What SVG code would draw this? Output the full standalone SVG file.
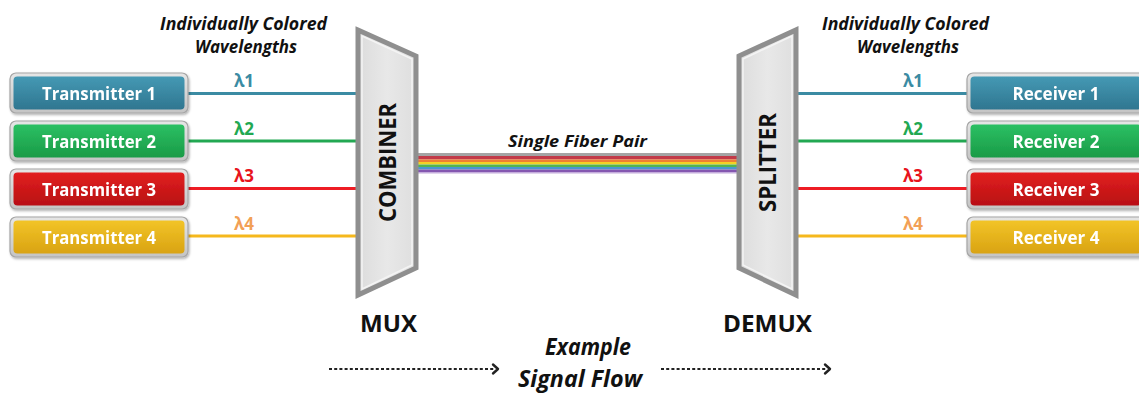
<svg xmlns="http://www.w3.org/2000/svg" width="1139" height="396" viewBox="0 0 1139 396">
  <defs>
    <style>
      .lbl { font-family: "Open Sans", "Liberation Sans", sans-serif; font-weight: bold; fill: #ffffff; font-size: 18px; text-anchor: middle; }
      .hdr { font-family: "Open Sans", "Liberation Sans", sans-serif; font-weight: bold; font-style: italic; fill: #111111; text-anchor: middle; }
      .big { font-family: "Open Sans", "Liberation Sans", sans-serif; font-weight: bold; fill: #111111; text-anchor: middle; }
      .lam { font-family: "Open Sans", "Liberation Sans", sans-serif; font-weight: bold; font-size: 17px; text-anchor: middle; }
      .frame { fill: url(#gFrame); stroke: #a6a6a6; stroke-width: 1.2; }
      .wave { stroke-width: 3; fill: none; }
      .flow { stroke: #222222; stroke-width: 2; stroke-dasharray: 3 2.2; fill: none; }
      .chev { stroke: #222222; stroke-width: 2.4; fill: none; stroke-linecap: round; stroke-linejoin: round; }
      .trap { fill: url(#gTrap); stroke: #8f8f8f; stroke-width: 5; stroke-linejoin: miter; }
      .trapIn { fill: none; stroke: #f4f4f4; stroke-width: 1.5; }
    </style>
    <linearGradient id="gFrame" x1="0" y1="0" x2="0" y2="1">
      <stop offset="0" stop-color="#e6e6e6"/>
      <stop offset="1" stop-color="#c4c4c4"/>
    </linearGradient>
    <linearGradient id="gBlue" x1="0" y1="0" x2="0" y2="1">
      <stop offset="0" stop-color="#4599b4"/>
      <stop offset="1" stop-color="#2f7690"/>
    </linearGradient>
    <linearGradient id="gGreen" x1="0" y1="0" x2="0" y2="1">
      <stop offset="0" stop-color="#2cc063"/>
      <stop offset="1" stop-color="#199b47"/>
    </linearGradient>
    <linearGradient id="gRed" x1="0" y1="0" x2="0" y2="1">
      <stop offset="0" stop-color="#e22020"/>
      <stop offset="1" stop-color="#b80f12"/>
    </linearGradient>
    <linearGradient id="gGold" x1="0" y1="0" x2="0" y2="1">
      <stop offset="0" stop-color="#f2c428"/>
      <stop offset="1" stop-color="#d9a312"/>
    </linearGradient>
    <linearGradient id="gTrap" x1="0" y1="0" x2="1" y2="0">
      <stop offset="0" stop-color="#dcdcdc"/>
      <stop offset="0.5" stop-color="#e8e8e8"/>
      <stop offset="1" stop-color="#dedede"/>
    </linearGradient>
    <filter id="shadow" x="-10%" y="-20%" width="120%" height="150%">
      <feDropShadow dx="1" dy="1.5" stdDeviation="1.2" flood-color="#000000" flood-opacity="0.3"/>
    </filter>
  </defs>

  <rect width="1139" height="396" fill="#ffffff"/>

  <!-- headings -->
  <g id="header-left">
    <text class="hdr" x="243.5" y="30" font-size="17" textLength="167" lengthAdjust="spacingAndGlyphs">Individually Colored</text>
    <text class="hdr" x="246" y="52.5" font-size="17" textLength="102" lengthAdjust="spacingAndGlyphs">Wavelengths</text>
  </g>
  <g id="header-right">
    <text class="hdr" x="905.5" y="30" font-size="17" textLength="167" lengthAdjust="spacingAndGlyphs">Individually Colored</text>
    <text class="hdr" x="908" y="52.5" font-size="17" textLength="102" lengthAdjust="spacingAndGlyphs">Wavelengths</text>
  </g>

  <!-- connectors: wavelength lines, fiber trunk, flow arrows -->
  <g id="connectors">
    <line class="wave" x1="188" y1="93.5" x2="358" y2="93.5" stroke="#3b8ba3"/>
    <line class="wave" x1="188" y1="141" x2="358" y2="141" stroke="#22a852"/>
    <line class="wave" x1="188" y1="188.5" x2="358" y2="188.5" stroke="#ee1c24"/>
    <line class="wave" x1="188" y1="236" x2="358" y2="236" stroke="#f5b81c"/>

    <line class="wave" x1="796" y1="93.5" x2="968" y2="93.5" stroke="#3b8ba3"/>
    <line class="wave" x1="796" y1="141" x2="968" y2="141" stroke="#22a852"/>
    <line class="wave" x1="796" y1="188.5" x2="968" y2="188.5" stroke="#ee1c24"/>
    <line class="wave" x1="796" y1="236" x2="968" y2="236" stroke="#f5b81c"/>

    <g id="fiber">
      <rect x="418" y="153" width="320" height="3" fill="#a4a4a4"/>
      <rect x="418" y="156" width="320" height="3.5" fill="#c23a48"/>
      <rect x="418" y="159.5" width="320" height="2.5" fill="#ef7f32"/>
      <rect x="418" y="162" width="320" height="2.5" fill="#f4d124"/>
      <rect x="418" y="164.5" width="320" height="2.5" fill="#55b54e"/>
      <rect x="418" y="167" width="320" height="2.5" fill="#4a96d2"/>
      <rect x="418" y="169.5" width="320" height="2.5" fill="#8457b0"/>
      <rect x="418" y="172" width="320" height="1.5" fill="#c4acdc"/>
    </g>

    <line class="flow" x1="329" y1="369" x2="494" y2="369"/>
    <polyline class="chev" points="493,364.5 498,369 493,373.5"/>
    <line class="flow" x1="661" y1="369" x2="826" y2="369"/>
    <polyline class="chev" points="825,364.5 830,369 825,373.5"/>
  </g>

  <!-- wavelength tags -->
  <g id="lambda-left">
    <text class="lam" x="244" y="87" fill="#3b8ba3">λ1</text>
    <text class="lam" x="244" y="134.5" fill="#22a852">λ2</text>
    <text class="lam" x="244" y="182" fill="#e8141c">λ3</text>
    <text class="lam" x="244" y="229.5" fill="#f2a056">λ4</text>
  </g>
  <g id="lambda-right">
    <text class="lam" x="913" y="87" fill="#3b8ba3">λ1</text>
    <text class="lam" x="913" y="134.5" fill="#22a852">λ2</text>
    <text class="lam" x="913" y="182" fill="#e8141c">λ3</text>
    <text class="lam" x="913" y="229.5" fill="#f2a056">λ4</text>
  </g>

  <!-- transmitters -->
  <g id="transmitter-1" filter="url(#shadow)">
    <rect class="frame" x="10" y="73" width="178" height="40" rx="6"/>
    <rect x="13.5" y="76.5" width="171" height="33" rx="4" fill="url(#gBlue)"/>
    <text class="lbl" x="99" y="100" textLength="114" lengthAdjust="spacingAndGlyphs">Transmitter 1</text>
  </g>
  <g id="transmitter-2" filter="url(#shadow)">
    <rect class="frame" x="10" y="121" width="178" height="40" rx="6"/>
    <rect x="13.5" y="124.5" width="171" height="33" rx="4" fill="url(#gGreen)"/>
    <text class="lbl" x="99" y="148" textLength="114" lengthAdjust="spacingAndGlyphs">Transmitter 2</text>
  </g>
  <g id="transmitter-3" filter="url(#shadow)">
    <rect class="frame" x="10" y="169" width="178" height="40" rx="6"/>
    <rect x="13.5" y="172.5" width="171" height="33" rx="4" fill="url(#gRed)"/>
    <text class="lbl" x="99" y="196" textLength="114" lengthAdjust="spacingAndGlyphs">Transmitter 3</text>
  </g>
  <g id="transmitter-4" filter="url(#shadow)">
    <rect class="frame" x="10" y="217" width="178" height="40" rx="6"/>
    <rect x="13.5" y="220.5" width="171" height="33" rx="4" fill="url(#gGold)"/>
    <text class="lbl" x="99" y="244" textLength="114" lengthAdjust="spacingAndGlyphs">Transmitter 4</text>
  </g>

  <!-- receivers (run off the right edge) -->
  <g id="receiver-1" filter="url(#shadow)">
    <rect class="frame" x="967" y="73" width="178" height="40" rx="6"/>
    <rect x="970.5" y="76.5" width="171" height="33" rx="4" fill="url(#gBlue)"/>
    <text class="lbl" x="1056" y="100" textLength="87" lengthAdjust="spacingAndGlyphs">Receiver 1</text>
  </g>
  <g id="receiver-2" filter="url(#shadow)">
    <rect class="frame" x="967" y="121" width="178" height="40" rx="6"/>
    <rect x="970.5" y="124.5" width="171" height="33" rx="4" fill="url(#gGreen)"/>
    <text class="lbl" x="1056" y="148" textLength="87" lengthAdjust="spacingAndGlyphs">Receiver 2</text>
  </g>
  <g id="receiver-3" filter="url(#shadow)">
    <rect class="frame" x="967" y="169" width="178" height="40" rx="6"/>
    <rect x="970.5" y="172.5" width="171" height="33" rx="4" fill="url(#gRed)"/>
    <text class="lbl" x="1056" y="196" textLength="87" lengthAdjust="spacingAndGlyphs">Receiver 3</text>
  </g>
  <g id="receiver-4" filter="url(#shadow)">
    <rect class="frame" x="967" y="217" width="178" height="40" rx="6"/>
    <rect x="970.5" y="220.5" width="171" height="33" rx="4" fill="url(#gGold)"/>
    <text class="lbl" x="1056" y="244" textLength="87" lengthAdjust="spacingAndGlyphs">Receiver 4</text>
  </g>

  <!-- MUX: combiner block -->
  <g id="combiner">
    <polygon class="trap" points="358,30 416,56 416,268 358,295"/>
    <polygon class="trapIn" points="362,36 412,59 412,265 362,289"/>
    <text class="big" font-size="23" transform="translate(395.5,162.5) rotate(-90)" textLength="119" lengthAdjust="spacingAndGlyphs">COMBINER</text>
    <text class="big" x="388.5" y="332" font-size="23" textLength="57" lengthAdjust="spacingAndGlyphs">MUX</text>
  </g>

  <!-- DEMUX: splitter block -->
  <g id="splitter">
    <polygon class="trap" points="739,56 796,30 796,295 739,268"/>
    <polygon class="trapIn" points="743,59 792,36 792,289 743,265"/>
    <text class="big" font-size="23" transform="translate(775.5,162.5) rotate(-90)" textLength="99" lengthAdjust="spacingAndGlyphs">SPLITTER</text>
    <text class="big" x="767.5" y="332" font-size="23" textLength="89" lengthAdjust="spacingAndGlyphs">DEMUX</text>
  </g>

  <!-- captions -->
  <g id="fiber-label">
    <text class="hdr" x="577.5" y="147" font-size="16.5" textLength="139" lengthAdjust="spacingAndGlyphs">Single Fiber Pair</text>
  </g>
  <g id="flow-label">
    <text class="hdr" x="588" y="355" font-size="24" textLength="86" lengthAdjust="spacingAndGlyphs">Example</text>
    <text class="hdr" x="580" y="387" font-size="24" textLength="124" lengthAdjust="spacingAndGlyphs">Signal Flow</text>
  </g>
</svg>
